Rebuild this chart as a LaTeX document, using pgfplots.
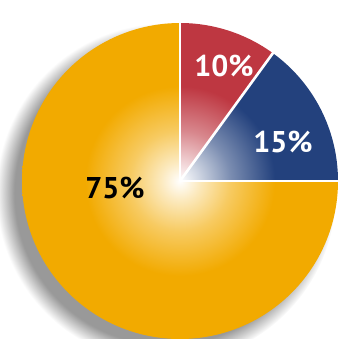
\documentclass[border=0pt]{standalone}
\usepackage{pgfplots}
\pgfplotsset{compat=1.18}
\usepackage{fontspec}
\setmainfont{PT Sans}
\definecolor{pieorange}{RGB}{242,170,0}
\definecolor{piered}{RGB}{190,55,65}
\definecolor{pienavy}{RGB}{35,65,125}
\pgfdeclareradialshading{shorange}{\pgfpointorigin}{color(0bp)=(white); color(3bp)=(pieorange!25!white); color(8bp)=(pieorange!62!white); color(15bp)=(pieorange); color(50bp)=(pieorange)}
\pgfdeclareradialshading{shred}{\pgfpointorigin}{color(0bp)=(white); color(3bp)=(piered!22!white); color(8bp)=(piered!60!white); color(15bp)=(piered); color(50bp)=(piered)}
\pgfdeclareradialshading{shnavy}{\pgfpointorigin}{color(0bp)=(white); color(3bp)=(pienavy!22!white); color(8bp)=(pienavy!60!white); color(15bp)=(pienavy); color(50bp)=(pienavy)}
\pgfdeclareradialshading{shshadow}{\pgfpointorigin}{color(0bp)=(black!42); color(22.3bp)=(black!40); color(25bp)=(white); color(50bp)=(white)}
% pie values (percent)
\def\va{10}\def\vb{15}\def\vc{75}
\pgfmathsetmacro\aA{90}
\pgfmathsetmacro\aB{\aA-3.6*\va}
\pgfmathsetmacro\aC{\aB-3.6*\vb}
\pgfmathsetmacro\aD{\aC-3.6*\vc}
\begin{document}
\begin{tikzpicture}
\begin{axis}[scale only axis, width=342pt, height=338pt,
  xmin=0, xmax=342, ymin=0, ymax=338, hide axis, enlargelimits=false]
\path (axis cs:0,0) rectangle (axis cs:342,338);
% shadow
\shade[shading=shshadow] (axis cs:166,145) circle[radius=170pt];
% slices
\begin{scope}
\clip (axis cs:180,157) -- ++(\aA:158pt) arc[start angle=\aA, end angle=\aB, radius=158pt] -- cycle;
\shade[shading=shred] (axis cs:180,157) circle[radius=158pt];
\end{scope}
\begin{scope}
\clip (axis cs:180,157) -- ++(\aB:158pt) arc[start angle=\aB, end angle=\aC, radius=158pt] -- cycle;
\shade[shading=shnavy] (axis cs:180,157) circle[radius=158pt];
\end{scope}
\begin{scope}
\clip (axis cs:180,157) -- ++(\aC:158pt) arc[start angle=\aC, end angle=\aD, radius=158pt] -- cycle;
\shade[shading=shorange] (axis cs:180,157) circle[radius=158pt];
\end{scope}
\draw[white, line width=2.6pt] (axis cs:180,157) -- ++(\aA:159pt);
\draw[white, line width=2.6pt] (axis cs:180,157) -- ++(\aB:159pt);
\draw[white, line width=2.6pt] (axis cs:180,157) -- ++(\aC:159pt);
\node[white, font=\fontsize{30}{30}\selectfont\bfseries] at (axis cs:224,272) {\va\%};
\node[white, font=\fontsize{30}{30}\selectfont\bfseries] at (axis cs:283,196) {\vb\%};
\node[black, font=\fontsize{30}{30}\selectfont\bfseries] at (axis cs:115,150) {\vc\%};
\end{axis}
\end{tikzpicture}
\end{document}
